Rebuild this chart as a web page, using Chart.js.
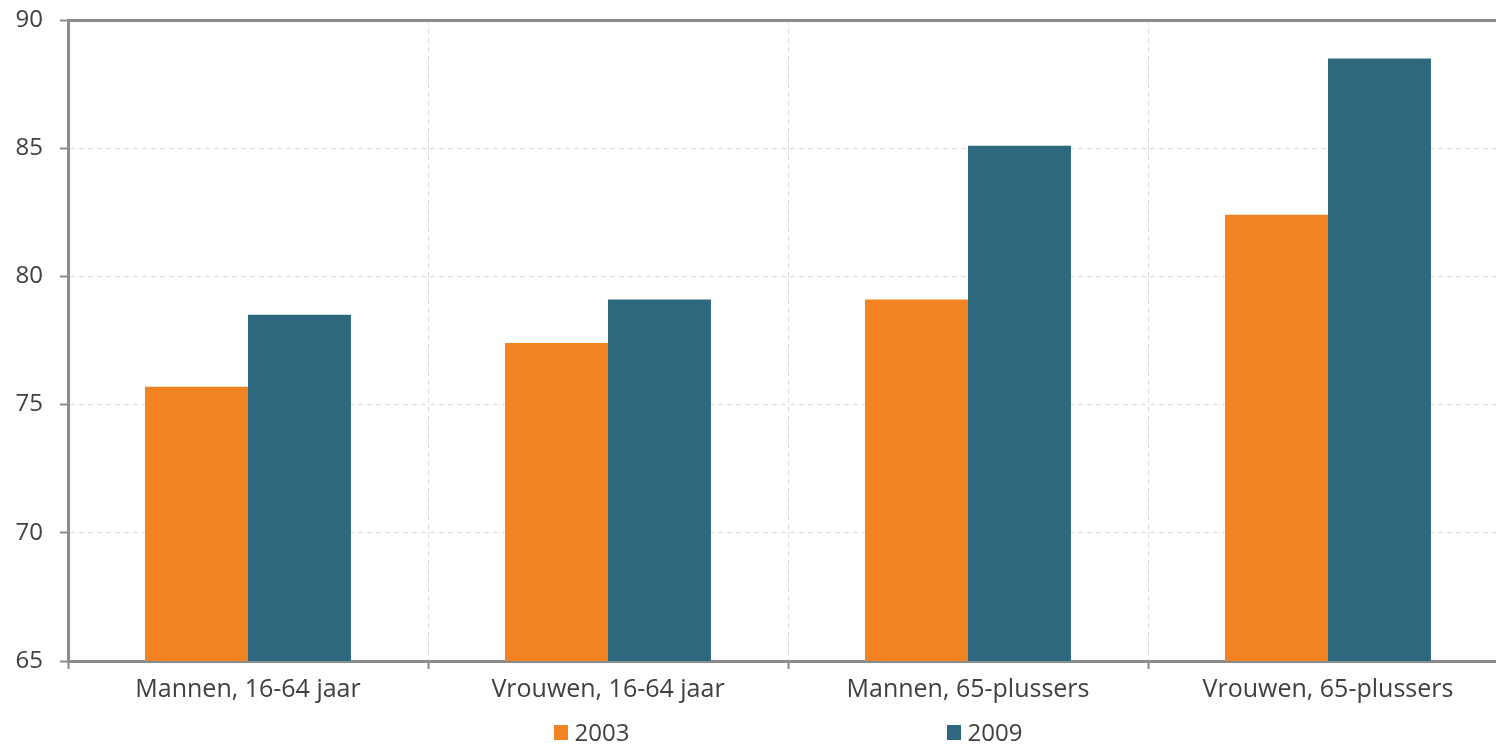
<!DOCTYPE html>
<html><head><meta charset="utf-8">
<script src="https://cdn.jsdelivr.net/npm/chart.js@4/dist/chart.umd.min.js"></script>
<style>
html,body{margin:0;padding:0;overflow:hidden;background:#fff;width:1496px;height:744px;}
#wrap{position:absolute;left:0;top:0;width:1508px;height:744px;}
#legend{position:absolute;left:0;top:716px;width:1576px;display:flex;justify-content:center;gap:317px;font-family:"Open Sans";font-size:24px;line-height:32px;color:#404040;}
.item{display:flex;align-items:center;}
.box{width:14px;height:15px;margin-right:7px;}
</style></head><body>
<div id="wrap"><canvas id="c"></canvas></div>
<div id="legend"></div>
<script>
const categories = ["Mannen, 16-64 jaar", "Vrouwen, 16-64 jaar", "Mannen, 65-plussers", "Vrouwen, 65-plussers"];
const seriesLabels = ["2003", "2009"];
const values2003 = [75.7, 77.4, 79.1, 82.4];
const values2009 = [78.5, 79.1, 85.1, 88.5];
const yMin = 65, yMax = 90, yStep = 5;

const colors = ["#F28322", "#2E687E"];
const axisGray = "#8c8c8c";
const gridGray = "#d9d9d9";
const textColor = "#404040";

const chart = new Chart(document.getElementById("c"), {
  type: "bar",
  data: {
    labels: categories,
    datasets: [
      {label: seriesLabels[0], data: values2003, backgroundColor: colors[0], categoryPercentage: 0.572, barPercentage: 1.0},
      {label: seriesLabels[1], data: values2009, backgroundColor: colors[1], categoryPercentage: 0.572, barPercentage: 1.0}
    ]
  },
  options: {
    responsive: true,
    maintainAspectRatio: false,
    animation: false,
    layout: {padding: {top: 20, left: 0, right: 0, bottom: 0}},
    plugins: {legend: {display: false}, tooltip: {enabled: false}},
    scales: {
      x: {
        offset: true,
        grid: {
          offset: true,
          color: (c) => (c.index === 0 ? "rgba(0,0,0,0)" : gridGray),
          lineWidth: 1,
          tickLength: 8,
          tickColor: axisGray,
          tickWidth: 2,
          tickBorderDash: []
        },
        border: {display: true, color: axisGray, width: 3, dash: [5, 4]},
        ticks: {color: textColor, font: {family: "Open Sans", size: 25}, padding: 6, maxRotation: 0},
        afterFit: (s) => { s.height = 83; s.paddingLeft = 0; s.paddingRight = 0; }
      },
      y: {
        min: yMin, max: yMax,
        ticks: {stepSize: yStep, color: textColor, font: {family: "Open Sans", size: 24}, padding: 17},
        grid: {
          color: (c) => (c.tick && c.tick.value === yMax ? axisGray : (c.tick && c.tick.value === yMin ? "rgba(0,0,0,0)" : gridGray)),
          lineWidth: (c) => (c.tick && c.tick.value === yMax ? 3 : 1),
          tickLength: 8,
          tickColor: axisGray,
          tickWidth: 2,
          tickBorderDash: []
        },
        border: {display: true, color: axisGray, width: 3,
          dash: (c) => (c.tick && c.tick.value === yMax ? [] : [5, 4])},
        afterFit: (s) => { s.width = 68; s.paddingTop = 0; s.paddingBottom = 0; }
      }
    }
  }
});

const leg = document.getElementById("legend");
chart.data.datasets.forEach((ds) => {
  const it = document.createElement("div"); it.className = "item";
  const b = document.createElement("span"); b.className = "box"; b.style.background = ds.backgroundColor;
  const t = document.createElement("span"); t.textContent = ds.label;
  it.appendChild(b); it.appendChild(t); leg.appendChild(it);
});
</script>
</body></html>
